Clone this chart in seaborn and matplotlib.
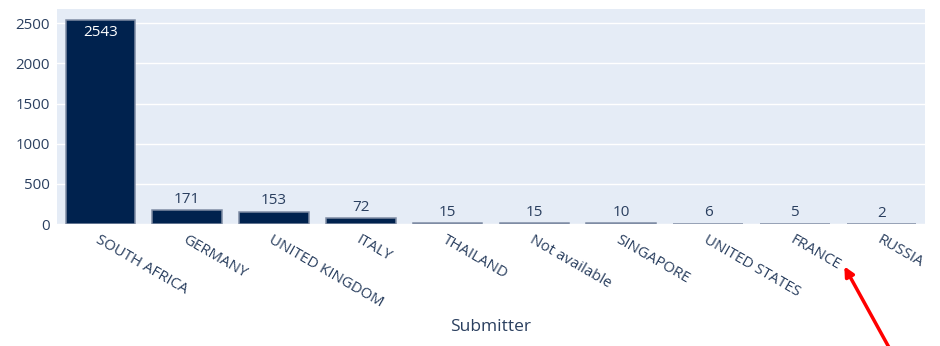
import matplotlib
matplotlib.use('Agg')
import matplotlib.pyplot as plt
import seaborn as sns
import pandas as pd

submitters = ['SOUTH AFRICA', 'GERMANY', 'UNITED KINGDOM', 'ITALY', 'THAILAND',
              'Not available', 'SINGAPORE', 'UNITED STATES', 'FRANCE', 'RUSSIA']
counts = [2543, 171, 153, 72, 15, 15, 10, 6, 5, 2]

df = pd.DataFrame({'Submitter': submitters, 'count': counts})

sns.set_style('white')
plt.rcParams['font.family'] = ['Open Sans', 'DejaVu Sans']
txt = '#2a3f5f'

fig = plt.figure(figsize=(9.4, 3.46), dpi=100)
ax = fig.add_axes([57 / 940, (346 - 224) / 346, (925 - 57) / 940, (224 - 9) / 346])
ax.set_facecolor('#E5ECF6')

sns.barplot(data=df, x='Submitter', y='count', color='#00224e', width=0.8,
            saturation=1, edgecolor='#7f8ca4', linewidth=1.1, ax=ax, zorder=3)

ax.set_xlim(-0.5, len(submitters) - 0.5)
ax.set_ylim(0, 2677)
ax.set_yticks([0, 500, 1000, 1500, 2000, 2500])
ax.grid(axis='y', color='white', linewidth=1, zorder=0)
ax.set_axisbelow(True)
for s in ax.spines.values():
    s.set_visible(False)

ax.tick_params(axis='both', length=0, labelsize=10.8, labelcolor=txt)
ax.tick_params(axis='y', pad=5)
ax.set_xticks(range(len(submitters)))
ax.set_xticklabels(submitters, rotation=-30, ha='left', va='top', rotation_mode='anchor')
ax.tick_params(axis='x', pad=6)

ax.set_ylabel('')
ax.set_xlabel('Submitter', fontsize=12.5, color=txt, labelpad=6)

for i, v in enumerate(counts):
    if v > 1000:
        ax.text(i, v - 60, str(v), ha='center', va='top', color='white', fontsize=11, zorder=4)
    else:
        ax.text(i, v + 40, str(v), ha='center', va='bottom', color=txt, fontsize=11, zorder=4)

# red arrow pointing at the FRANCE label
ax.annotate('', xy=(843 / 940, (346 - 264) / 346), xycoords='figure fraction',
            xytext=(892 / 940, -0.02), textcoords='figure fraction',
            arrowprops=dict(arrowstyle='-|>', color='red', lw=2.5, mutation_scale=14),
            annotation_clip=False)

fig.savefig('out.png', dpi=100)
